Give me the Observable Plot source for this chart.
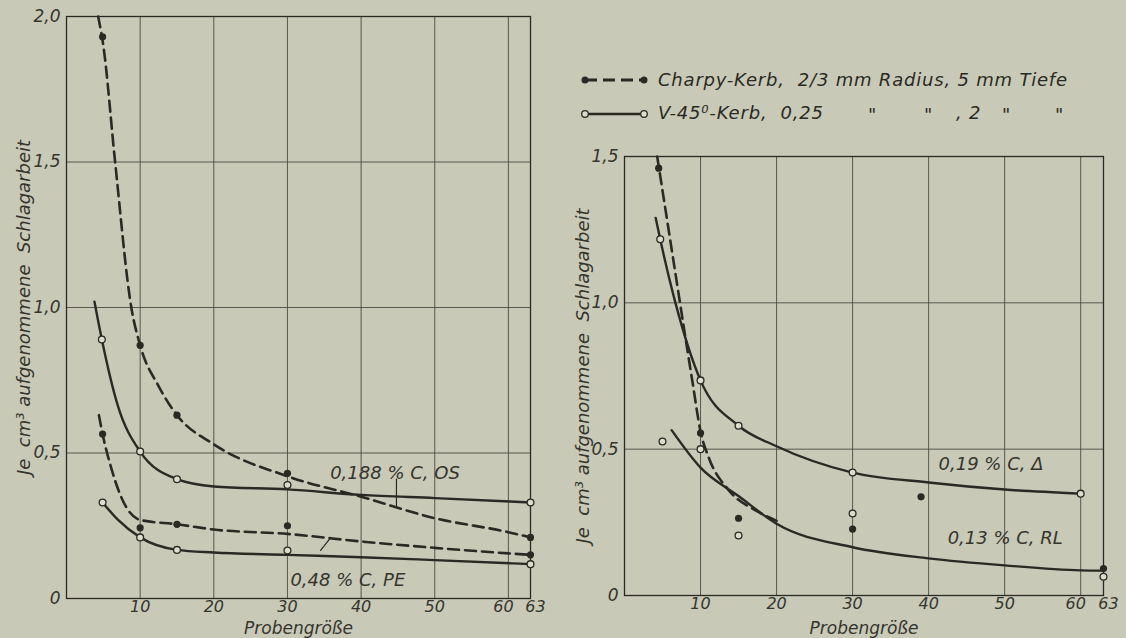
<!DOCTYPE html>
<html><head><meta charset="utf-8">
<script src="https://cdn.jsdelivr.net/npm/d3@7"></script>
<script src="https://cdn.jsdelivr.net/npm/@observablehq/plot@0.6"></script>
<style>
html,body{margin:0;padding:0;background:#c8c9b7;}
#wrap{position:relative;width:1126px;height:638px;overflow:hidden;background:#c8c9b7;font-family:"DejaVu Sans",sans-serif;font-style:italic;color:#2a2a24;}
#left,#right{position:absolute;top:0;}
#left{left:0;}
#right{left:560px;}
#legend{position:absolute;left:0;top:0;width:1126px;height:140px;}
.lt{position:absolute;font-size:18px;white-space:pre;line-height:1;letter-spacing:0.8px;}
.sw{position:absolute;}
</style></head><body>
<div id="wrap">
  <div id="left"></div>
  <div id="right"></div>
  <div id="legend">
    <svg class="sw" style="left:578px;top:72px" width="74" height="16">
      <line x1="7" y1="8" x2="66" y2="8" stroke="#2a2a24" stroke-width="3" stroke-dasharray="12,6"/>
      <circle cx="7" cy="8" r="3.5" fill="#2a2a24"/><circle cx="66" cy="8" r="3.5" fill="#2a2a24"/>
    </svg>
    <div class="lt" style="left:658px;top:71px">Charpy-Kerb,  2/3 mm Radius, 5 mm Tiefe</div>
    <svg class="sw" style="left:578px;top:106px" width="74" height="16">
      <line x1="10" y1="8" x2="63" y2="8" stroke="#2a2a24" stroke-width="2.6"/>
      <circle cx="7" cy="8" r="3.3" fill="#dcdccd" stroke="#2a2a24" stroke-width="1.3"/><circle cx="66" cy="8" r="3.3" fill="#dcdccd" stroke="#2a2a24" stroke-width="1.3"/>
    </svg>
    <div class="lt" style="left:658px;top:104px">V-45⁰-Kerb,  0,25</div>
    <div class="lt" style="left:868px;top:106px">"</div>
    <div class="lt" style="left:924px;top:106px">"</div>
    <div class="lt" style="left:956px;top:104px">, 2</div>
    <div class="lt" style="left:1002px;top:106px">"</div>
    <div class="lt" style="left:1055px;top:106px">"</div>
  </div>
</div>
<script>
// ---- axes / ticks ----
const sizeTicks = [10, 20, 30, 40, 50, 60, 63];
const leftYTicks = [0, 0.5, 1.0, 1.5, 2.0];
const rightYTicks = [0, 0.5, 1.0, 1.5];
const yTitle = "Je  cm³ aufgenommene  Schlagarbeit";
const xTitle = "Probengröße";

// ---- left panel: 0,188 % C, OS ----
const osCharpyCurve = [[4.3,2.0],[5,1.9],[6.6,1.5],[8.8,1.0],[10,0.87],[12.5,0.73],[15,0.63],[20,0.53],[30,0.42],[40,0.35],[50,0.276],[60,0.228],[63,0.21]];
const osCharpyDots  = [[4.9,1.93],[10,0.87],[15,0.63],[30,0.43],[63,0.21]];
const osVCurve      = [[3.8,1.02],[4.8,0.89],[7,0.66],[10,0.505],[15,0.41],[20,0.385],[30,0.375],[40,0.356],[50,0.345],[63,0.33]];
const osVDots       = [[4.8,0.89],[10,0.505],[15,0.41],[30,0.39],[63,0.33]];

// ---- left panel: 0,48 % C, PE ----
const peCharpyCurve = [[4.4,0.63],[4.9,0.565],[6,0.455],[7.4,0.35],[10,0.27],[15,0.255],[20,0.237],[30,0.222],[40,0.196],[50,0.174],[60,0.155],[63,0.15]];
const peCharpyDots  = [[4.9,0.565],[10,0.243],[15,0.255],[30,0.25],[63,0.15]];
const peVCurve      = [[4.9,0.33],[7,0.27],[10,0.21],[15,0.167],[20,0.158],[30,0.15],[40,0.142],[50,0.132],[63,0.118]];
const peVDots       = [[4.9,0.33],[10,0.21],[15,0.167],[30,0.165],[63,0.118]];

// ---- right panel ----
const rCharpyCurve  = [[4.3,1.5],[5.5,1.3],[6.7,1.1],[7.9,0.9],[9,0.72],[10,0.56],[11.1,0.47],[13.7,0.36],[17.3,0.29],[20,0.255]];
const rCharpyDots   = [[4.5,1.46],[10,0.555],[15,0.264],[30,0.227],[39,0.337],[63,0.092]];
const r19VCurve     = [[4.1,1.29],[4.7,1.217],[6.7,1.0],[10,0.735],[15,0.58],[20,0.51],[30,0.42],[40,0.386],[50,0.362],[60,0.348]];
const r13VCurve     = [[6.2,0.565],[10,0.437],[15,0.34],[20,0.245],[30,0.165],[40,0.127],[50,0.103],[60,0.086],[63,0.085]];
const rVDots        = [[4.7,1.217],[10,0.735],[15,0.58],[30,0.42],[60,0.348],[5,0.526],[10,0.5],[15,0.205],[30,0.28],[63,0.064]];

const INK = "#2a2a24";
const GRID = "#4b4b44";
const HOLE = "#dcdccd";
const TXT = "#35352e";
const fmtY = d => d === 0 ? "0" : d3.format(".1f")(d).replace(".", ",");

function panel(o) {
  const line = (data, dashed) => Plot.line(data, {
    x: d => d[0], y: d => d[1], curve: "monotone-x",
    stroke: INK, strokeWidth: dashed ? 2.6 : 2.4,
    strokeDasharray: dashed ? "11,6" : null
  });
  const xAxis = (ticks, dx) => Plot.axisX(ticks, {tickSize: 0, tickPadding: 2, tickFormat: d => String(d), label: null, fontSize: 16, fill: TXT, dx});
  return Plot.plot({
    width: o.width, height: 638,
    marginLeft: o.ml, marginRight: o.mr, marginTop: o.mt, marginBottom: o.mb,
    style: {background: "transparent", fontFamily: "DejaVu Sans", fontStyle: "italic", fontSize: "17px", color: INK, overflow: "visible"},
    x: {domain: [0, 63]},
    y: {domain: [0, o.yMax]},
    marks: [
      Plot.gridX(sizeTicks.filter(d => d < 63), {stroke: GRID, strokeOpacity: 0.9, strokeWidth: 1}),
      Plot.gridY(o.yTicks.filter(d => d > 0 && d < o.yMax), {stroke: GRID, strokeOpacity: 0.9, strokeWidth: 1}),
      Plot.frame({stroke: INK, strokeWidth: 1.3}),
      xAxis(sizeTicks.filter(d => d < 60), 0),
      xAxis(sizeTicks.filter(d => d === 60), -5),
      xAxis(sizeTicks.filter(d => d === 63), 5),
      Plot.axisY(o.yTicks, {tickSize: 0, tickPadding: 6, tickFormat: fmtY, label: null, fontSize: 17, fill: TXT}),
      ...o.dashed.map(c => line(c, true)),
      ...o.solid.map(c => line(c, false)),
      ...o.links.map(l => Plot.line(l, {x: d => d[0], y: d => d[1], stroke: INK, strokeWidth: 1.2})),
      Plot.dot(o.filled, {x: d => d[0], y: d => d[1], r: 3.6, fill: INK}),
      Plot.dot(o.open, {x: d => d[0], y: d => d[1], r: 3.4, fill: HOLE, stroke: INK, strokeWidth: 1.3}),
      ...o.labels.map(l => Plot.text([l.text], {text: d => d, x: l.x, y: l.y, textAnchor: "start", fontSize: 18, fill: TXT})),
      Plot.text([yTitle], {text: d => d, frameAnchor: "left", textAnchor: "middle", rotate: -90, dx: o.tdx, dy: o.tdy, fontSize: 18, fill: TXT, letterSpacing: "3px"}),
      Plot.text([xTitle], {text: d => d, frameAnchor: "bottom", lineAnchor: "bottom", dy: o.xdy, fontSize: 17, fill: TXT, letterSpacing: "0.6px"})
    ]
  });
}

document.getElementById("left").append(panel({
  width: 545, ml: 66, mr: 15, mt: 16, mb: 40, yMax: 2.0, yTicks: leftYTicks,
  dashed: [osCharpyCurve, peCharpyCurve],
  solid: [osVCurve, peVCurve],
  filled: [...osCharpyDots, ...peCharpyDots],
  open: [...osVDots, ...peVDots],
  links: [[[44.8, 0.41], [44.8, 0.318]], [[34.5, 0.165], [35.9, 0.21]]],
  labels: [{text: "0,188 % C, OS", x: 35.8, y: 0.43}, {text: "0,48 % C, PE", x: 30.4, y: 0.062}],
  tdx: -42, tdy: 0, xdy: 35
}));

document.getElementById("right").append(panel({
  width: 566, ml: 64, mr: 23, mt: 156, mb: 43, yMax: 1.5, yTicks: rightYTicks,
  dashed: [rCharpyCurve],
  solid: [r19VCurve, r13VCurve],
  filled: rCharpyDots,
  open: rVDots,
  links: [],
  labels: [{text: "0,19 % C, Δ", x: 41.3, y: 0.45}, {text: "0,13 % C, RL", x: 42.5, y: 0.195}],
  tdx: -41, tdy: 0, xdy: 38
}));
</script>
</body></html>
